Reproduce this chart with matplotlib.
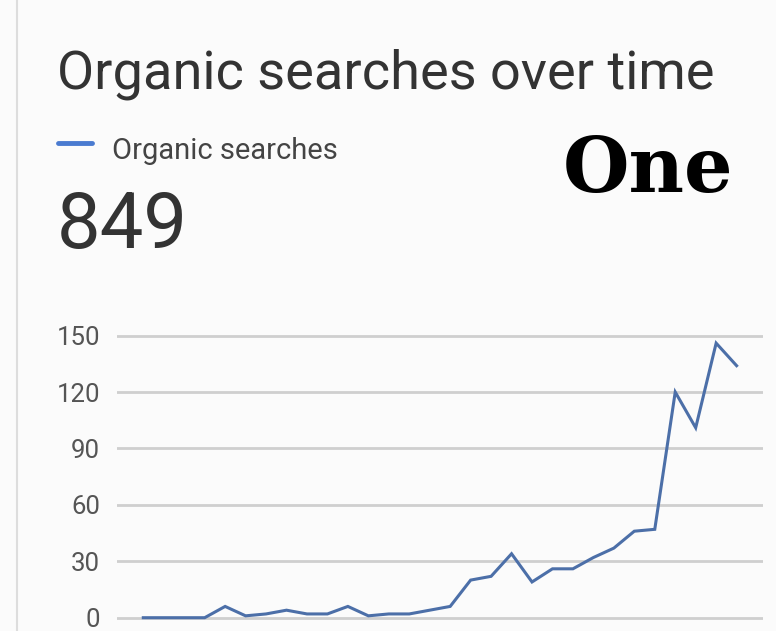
import matplotlib
matplotlib.use('Agg')
import matplotlib.pyplot as plt

# daily organic searches (30 days)
days = list(range(30))
searches = [0, 0, 0, 0, 6, 1, 2, 4, 2, 2,
            6, 1, 2, 2, 4, 6, 20, 22, 34, 19,
            26, 26, 32, 37, 46, 47, 120, 101, 146, 134]
yticks = [0, 30, 60, 90, 120, 150]

title = 'Organic searches over time'
series_name = 'Organic searches'
total = '849'

bg = '#fbfbfb'
fig = plt.figure(figsize=(7.76, 6.31), dpi=100, facecolor=bg)
plt.rcParams['font.family'] = ['Roboto', 'DejaVu Sans']

# the plot area, placed in figure fractions
ax = fig.add_axes([116.7/776, 0, (763-116.7)/776, (631-320)/631])
ax.set_facecolor(bg)
ax.plot(days, searches, color='#4c6fa8', lw=2.2, solid_joinstyle='miter')
ax.set_xlim(-1.3, 30.29)
ax.set_ylim(-7.07, 158.3)
ax.set_yticks(yticks)
ax.set_xticks([])
ax.tick_params(axis='y', length=0, pad=12, labelsize=18.5, labelcolor='#555555')
ax.grid(axis='y', color='#cfcfcf', lw=2)
ax.set_axisbelow(True)
for s in ax.spines.values():
    s.set_visible(False)

# left border of the card
fig.add_artist(plt.Line2D([16.7/776, 16.7/776], [0, 1], color='#dddddd', lw=1.5))

fig.text(57/776, 1-88/631, title, fontsize=39, color='#333333', va='baseline')
fig.add_artist(plt.Line2D([58/776, 91.7/776], [1-143.3/631]*2, color='#4a7bd0', lw=3.5,
                          solid_capstyle='round'))
fig.text(111.7/776, 1-159/631, series_name, fontsize=21, color='#444444', va='baseline')
fig.text(57/776, 1-248/631, total, fontsize=56, color='#333333', va='baseline')
fig.text(733/776, 1-191.7/631, 'One', fontsize=55, color='black', ha='right', va='baseline',
         family='DejaVu Serif', weight='bold')

fig.savefig('out.png', dpi=100, facecolor=bg)
